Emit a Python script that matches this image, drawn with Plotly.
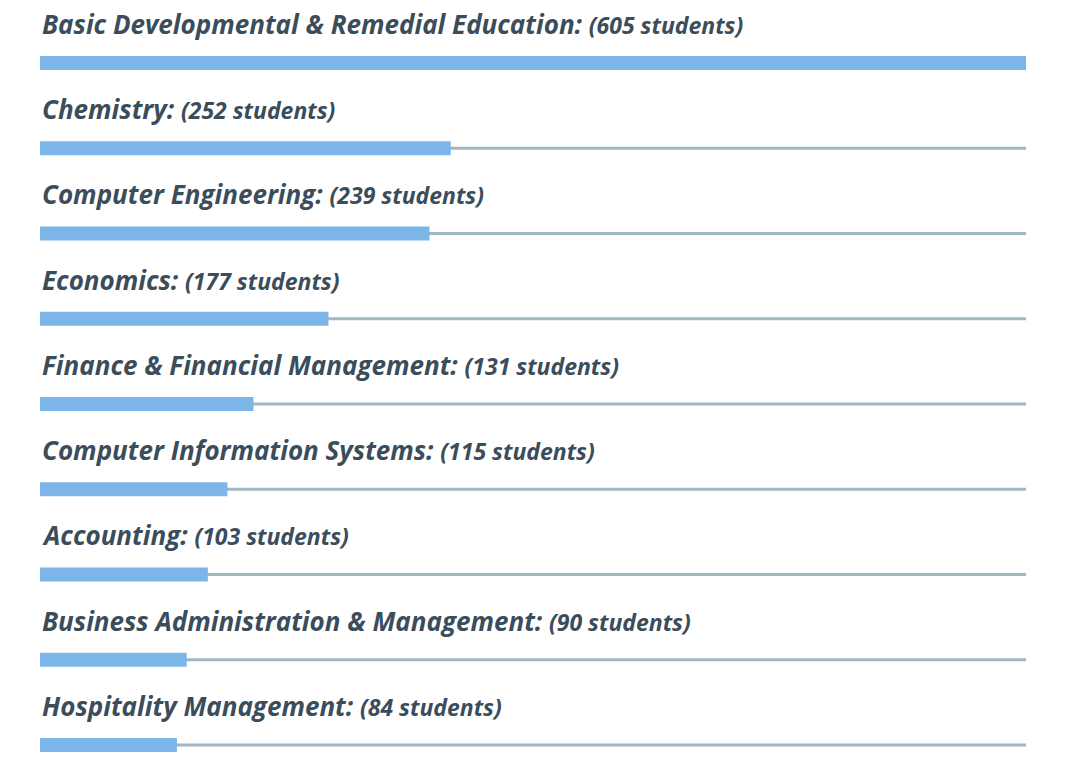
import plotly.graph_objects as go

categories = [
    "Basic Developmental & Remedial Education",
    "Chemistry",
    "Computer Engineering",
    "Economics",
    "Finance & Financial Management",
    "Computer Information Systems",
    "Accounting",
    "Business Administration & Management",
    "Hospitality Management",
]
students = [605, 252, 239, 177, 131, 115, 103, 90, 84]

max_val = max(students)
ypos = list(range(len(categories)))

fig = go.Figure()
fig.add_trace(go.Bar(
    x=[max_val] * len(categories), y=ypos, orientation="h",
    width=0.035, marker=dict(color="#a2b8c1", line=dict(width=0)),
    hoverinfo="skip", showlegend=False,
))
fig.add_trace(go.Bar(
    x=students, y=ypos, orientation="h",
    width=0.164, marker=dict(color="#7cb6e8", line=dict(width=0)),
    hoverinfo="skip", showlegend=False,
))

for i, (c, v) in enumerate(zip(categories, students)):
    fig.add_annotation(
        x=0, xref="paper", y=i, yref="y", xanchor="left", yanchor="middle",
        yshift=39, showarrow=False,
        text=f"<b><i>{c}:</i></b> <b><i><span style='font-size:23px'>({v} students)</span></i></b>",
        font=dict(family="Open Sans", size=26, color="#3b4d5b"),
    )

fig.update_layout(
    width=1080, height=768, barmode="overlay",
    margin=dict(l=40, r=54, t=0, b=0),
    plot_bgcolor="white", paper_bgcolor="white",
    xaxis=dict(range=[0, max_val], visible=False, fixedrange=True),
    yaxis=dict(range=[8.270, -0.739], visible=False, fixedrange=True),
)
fig.write_html("out.html", config={"displayModeBar": False})
